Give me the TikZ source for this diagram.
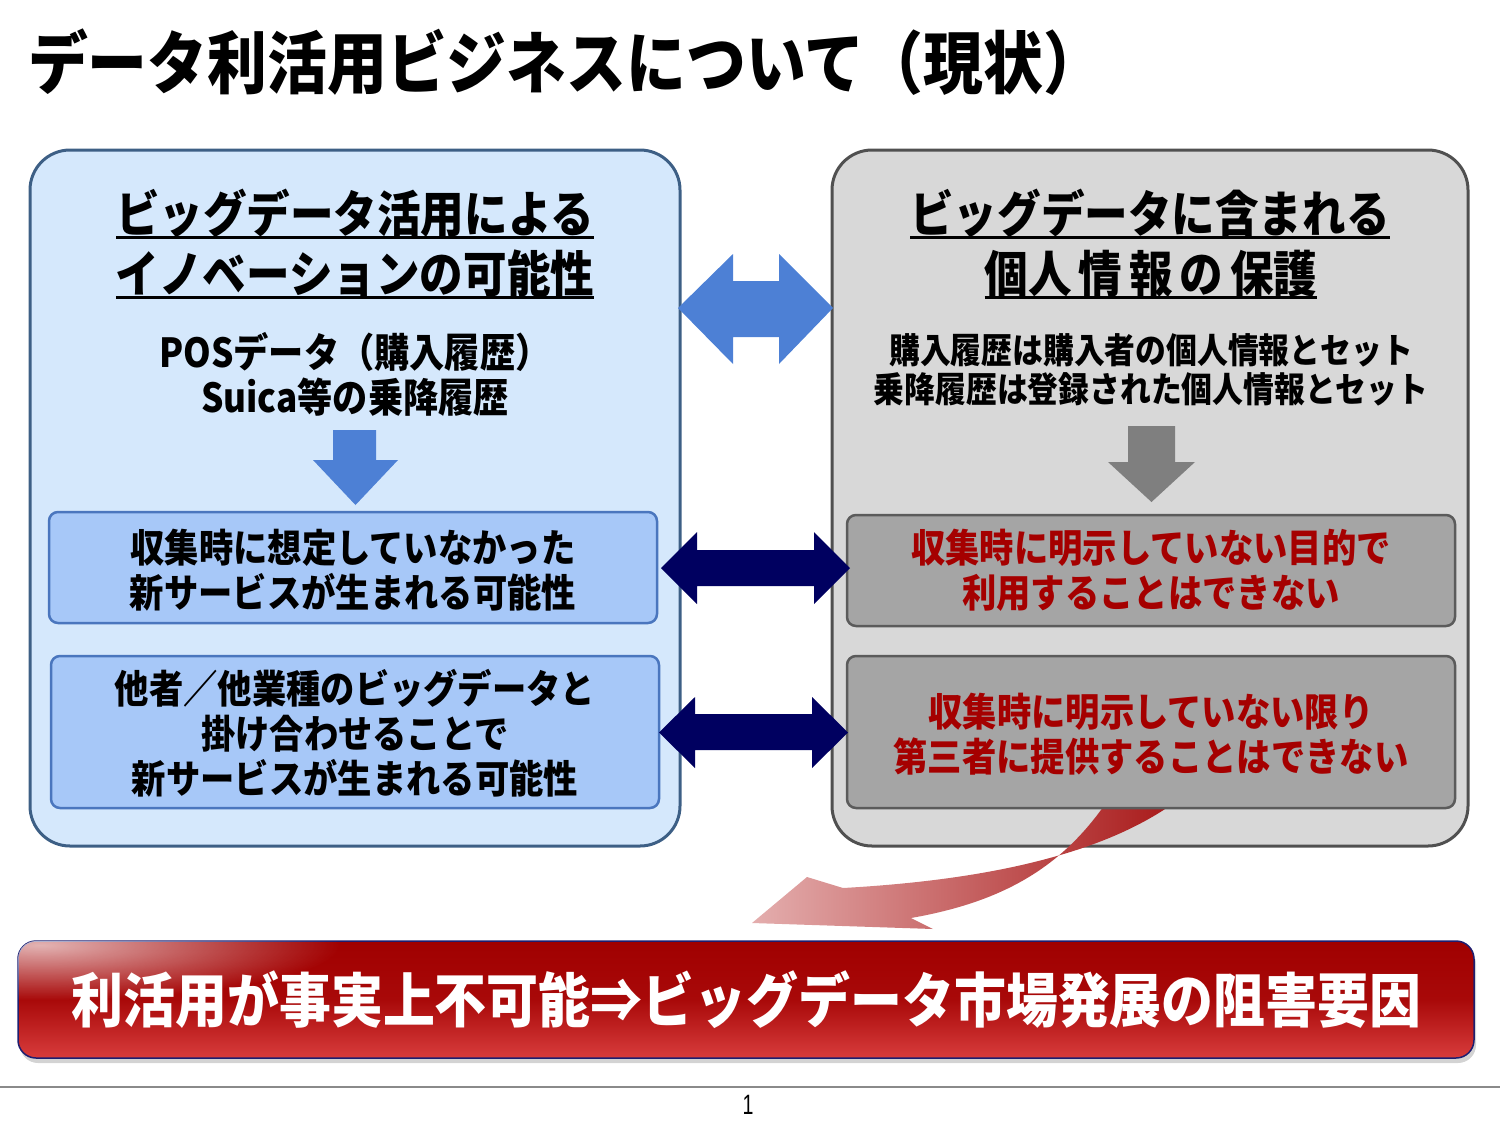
\documentclass[tikz,border=0pt]{standalone}
\usepackage{fontspec}
\setmainfont{Noto Sans CJK JP}[FakeStretch=0.88]
\newfontfamily\pgnumfont{Liberation Sans}[FakeStretch=0.7]
\usetikzlibrary{calc,shadows,fadings}
\tikzfading[name=glossfade, inner color=transparent!0, outer color=transparent!100]
\definecolor{LFill}{HTML}{D5E8FC}
\definecolor{LBorder}{HTML}{3D5F85}
\definecolor{RFill}{HTML}{D8D8D8}
\definecolor{RBorder}{HTML}{505050}
\definecolor{ILFill}{HTML}{A7C8F8}
\definecolor{ILBorder}{HTML}{4A76BE}
\definecolor{IRFill}{HTML}{A5A5A5}
\definecolor{IRBorder}{HTML}{5B5B5B}
\definecolor{RedTxt}{HTML}{A50000}
\definecolor{BlueArr}{HTML}{4D80D5}
\definecolor{GrayArr}{HTML}{7F7F7F}
\definecolor{NavyArr}{HTML}{000060}
\definecolor{CurveL}{HTML}{E4AEAE}
\definecolor{CurveR}{HTML}{A81818}
\definecolor{BanTop}{HTML}{A00000}
\definecolor{BanBot}{HTML}{D83C3C}
\definecolor{BanBorder}{HTML}{1E1E70}
\definecolor{FootGray}{HTML}{8A8A8A}
\newcommand\jfs[2]{\fontsize{#1pt}{#2pt}\selectfont\bfseries}
\tikzset{
  every node/.style={inner sep=0pt, outer sep=0pt},
  bigbox/.style={rectangle, rounded corners=40pt, line width=3pt, minimum height=696pt},
  bigL/.style={bigbox, draw=LBorder, fill=LFill, minimum width=650pt},
  bigR/.style={bigbox, draw=RBorder, fill=RFill, minimum width=636pt},
  innerbox/.style={rectangle, rounded corners=9pt, line width=2.5pt, minimum width=608pt},
  innerL/.style={innerbox, draw=ILBorder, fill=ILFill},
  innerR/.style={innerbox, draw=IRBorder, fill=IRFill},
  headtxt/.style={anchor=base, font=\jfs{49.5}{60}},
  subtxt/.style={anchor=base, font=\jfs{40}{45}},
  subtxtR/.style={anchor=base, font=\jfs{35}{39}},
  boxtxt/.style={align=center, font=\jfs{39}{45}},
  uline/.style={line width=2.5pt, black},
}
\begin{document}
\begin{tikzpicture}[x=1pt, y=-1pt]
\useasboundingbox (0,0) rectangle (1500,1125);
% title
\node[anchor=base west, font=\jfs{68}{72}] (title) at (28,88) {データ利活用ビジネスについて（現状）};
% big boxes
\node[bigL] (L) at (355,498) {};
\node[bigR] (R) at (1150,498) {};
% curved red arrow (behind inner boxes)
\shade[left color=CurveL, right color=CurveR]
  (1178,800) .. controls (1092,864) and (950,882) .. (843,888)
  -- (807,877) -- (752,923) -- (933,929) -- (911,918)
  .. controls (1002,902) and (1062,868) .. (1108,800) -- cycle;
% left title
\node[headtxt] (LT1) at (355,232) {ビッグデータ活用による};
\node[headtxt] (LT2) at (355,292) {イノベーションの可能性};
\draw[uline] ($(LT1.base west)+(0,5.5)$) -- ($(LT1.base east)+(0,5.5)$);
\draw[uline] ($(LT2.base west)+(0,5.5)$) -- ($(LT2.base east)+(0,5.5)$);
% right title
\node[headtxt] (RT1) at (1150,232) {ビッグデータに含まれる};
\node[headtxt] (RT2) at (1151,292) {個\addfontfeature{LetterSpace=14}人情報の保\addfontfeature{LetterSpace=0}護};
\draw[uline] ($(RT1.base west)+(0,5.5)$) -- ($(RT1.base east)+(0,5.5)$);
\draw[uline] ($(RT2.base west)+(0,5.5)$) -- ($(RT2.base east)+(0,5.5)$);
% sub texts
\node[subtxt] (LS1) at (355,367) {POSデータ（購入履歴）};
\node[subtxt] (LS2) at (355,412) {Suica等の乗降履歴};
\node[subtxtR] (RS1) at (1151,363) {購入履歴は購入者の個人情報とセット};
\node[subtxtR] (RS2) at (1151,402) {乗降履歴は登録された個人情報とセット};
% down arrows
\fill[BlueArr] (333,430) -- (376,430) -- (376,460) -- (398,460) -- (355.5,505) -- (313,460) -- (333,460) -- cycle;
\fill[GrayArr] (1128,426) -- (1175,426) -- (1175,462) -- (1195,462) -- (1151.5,502) -- (1108,462) -- (1128,462) -- cycle;
% inner boxes
\node[innerL, minimum height=111pt] (IL1) at (353,567.5) {};
\node[innerL, minimum height=152pt] (IL2) at (355,732) {};
\node[innerR, minimum height=111pt] (IR1) at (1151,570.5) {};
\node[innerR, minimum height=152pt] (IR2) at (1151,732) {};
\node[boxtxt] (IL1t) at ($(IL1.center)+(0,2.5)$) {収集時に想定していなかった\\新サービスが生まれる可能性};
\node[boxtxt] (IL2t) at ($(IL2.center)+(0,1)$) {他者／他業種のビッグデータと\\掛け合わせることで\\新サービスが生まれる可能性};
\node[boxtxt, text=RedTxt] (IR1t) at ($(IR1.center)+(0,0)$) {収集時に明示していない目的で\\利用することはできない};
\node[boxtxt, text=RedTxt] (IR2t) at ($(IR2.center)+(0,2.5)$) {収集時に明示していない限り\\第三者に提供することはできない};
% double arrows
\fill[BlueArr] (678,308) -- (733,254) -- (733,281) -- (779,281) -- (779,254) -- (833,308)
  -- (779,364) -- (779,337) -- (733,337) -- (733,364) -- cycle;
\fill[NavyArr] (661,568) -- (697,532) -- (697,550) -- (814,550) -- (814,532) -- (850,568)
  -- (814,604) -- (814,586) -- (697,586) -- (697,604) -- cycle;
\fill[NavyArr] (659,732.5) -- (695,697) -- (695,714) -- (812,714) -- (812,697) -- (848,732.5)
  -- (812,768) -- (812,750) -- (695,750) -- (695,768) -- cycle;
% banner
\node[rectangle, rounded corners=18pt, minimum width=1456pt, minimum height=117pt,
      draw=BanBorder, line width=1.5pt, top color=BanTop, bottom color=BanBot, middle color=BanTop!85!BanBot,
      drop shadow={shadow xshift=2pt, shadow yshift=-5pt, opacity=0.35}] (B) at (746,999.5) {};
\begin{scope}
  \clip[rounded corners=18pt] (B.north west) rectangle (B.south east);
  \fill[white, opacity=0.7, path fading=glossfade] (40,945) ellipse [x radius=300, y radius=55];
\end{scope}
\node[font=\jfs{59}{63}, text=white] (Bt) at (746.5,1000) {利活用が事実上不可能⇒ビッグデータ市場発展の阻害要因};
% footer
\draw[FootGray, line width=2pt] (0,1087) -- (1500,1087);
\node[font=\pgnumfont\fontsize{28pt}{30pt}\selectfont] (pg) at (748,1105) {1};
\end{tikzpicture}
\end{document}
